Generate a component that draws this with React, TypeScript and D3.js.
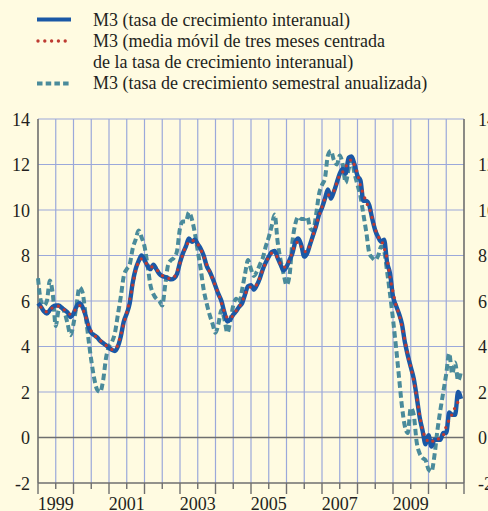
import React, { useEffect } from "react";
import * as d3 from "d3";

// Monthly observations, Jan 1999 .. Dec 2010
const START_YEAR = 1999;
const annualGrowth = [
  5.9, 5.75, 5.55, 5.45, 5.6, 5.75, 5.8, 5.8, 5.7, 5.6, 5.5, 5.3,
  5.45, 5.75, 5.9, 5.75, 5.4, 4.9, 4.6, 4.5, 4.4, 4.25, 4.15, 4.05,
  3.95, 3.85, 3.8, 4.0, 4.45, 5.1, 5.45, 5.9, 6.8, 7.4, 7.75, 8.0,
  7.8, 7.55, 7.4, 7.6, 7.4, 7.2, 7.1, 7.05, 7.0, 6.95, 7.0, 7.2,
  7.7, 8.1, 8.4, 8.75, 8.6, 8.7, 8.5, 8.3, 8.0, 7.55, 7.3, 7.0,
  6.65, 6.3, 6.0, 5.5, 5.1, 5.2, 5.4, 5.55, 5.75, 5.9, 6.3, 6.65,
  6.7, 6.5, 6.7, 7.0, 7.4, 7.7, 7.95, 8.15, 8.2, 7.9, 7.6, 7.35,
  7.5, 7.8, 8.1, 8.6, 8.75, 8.45, 7.95, 8.1, 8.5, 8.9, 9.3, 9.8,
  10.1, 10.5, 10.9, 10.5, 10.8, 11.2, 11.6, 11.8, 11.6, 12.3, 12.35, 12.0,
  11.5, 11.3, 10.4, 10.4, 10.2, 9.6, 9.1, 8.8, 8.6, 8.7, 7.7, 7.2,
  6.2, 5.8, 5.45, 5.0, 4.2, 3.6, 3.1, 2.6, 1.8, 0.9, 0.3, -0.3,
  0.1, -0.4, -0.1, -0.1, -0.1, 0.2, 0.2, 1.1, 1.0, 1.0, 2.0, 1.7,
];
// 3-month centred moving average (Feb 1999 .. Nov 2010), null where not available
const movingAverage = [
  null, 5.73, 5.58, 5.53, 5.6, 5.72, 5.78, 5.77, 5.7, 5.6, 5.47, 5.42,
  5.5, 5.7, 5.8, 5.68, 5.35, 4.97, 4.67, 4.5, 4.38, 4.27, 4.15, 4.05,
  3.95, 3.87, 3.88, 4.08, 4.52, 5.0, 5.48, 6.05, 6.7, 7.32, 7.72, 7.85,
  7.78, 7.58, 7.52, 7.47, 7.4, 7.23, 7.12, 7.05, 7.0, 6.98, 7.05, 7.3,
  7.67, 8.07, 8.42, 8.58, 8.68, 8.6, 8.5, 8.27, 7.95, 7.62, 7.28, 6.98,
  6.65, 6.32, 5.93, 5.53, 5.27, 5.23, 5.38, 5.57, 5.73, 5.98, 6.28, 6.55,
  6.62, 6.63, 6.73, 7.03, 7.37, 7.68, 7.93, 8.1, 8.08, 7.9, 7.62, 7.48,
  7.55, 7.8, 8.17, 8.48, 8.6, 8.38, 8.17, 8.18, 8.5, 8.9, 9.33, 9.73,
  10.13, 10.5, 10.63, 10.73, 10.83, 11.2, 11.53, 11.67, 11.9, 12.08, 12.22, 11.95,
  11.6, 11.07, 10.7, 10.33, 10.07, 9.63, 9.17, 8.83, 8.7, 8.33, 7.87, 7.03,
  6.4, 5.82, 5.42, 4.88, 4.27, 3.63, 3.1, 2.5, 1.77, 1.0, 0.3, 0.03,
  -0.2, -0.13, -0.2, -0.1, 0.0, 0.1, 0.5, 0.77, 1.03, 1.33, 1.57, null,
];
const semiannualGrowth = [
  7.0, 6.0, 5.8, 6.0, 6.9, 6.3, 4.9, 5.6, 5.7, 5.5, 5.0, 4.5,
  5.0, 5.8, 6.6, 6.4, 5.5, 4.4, 3.4, 2.6, 2.1, 2.0, 2.5, 3.5,
  4.0, 4.2, 4.6, 5.4, 6.2, 7.1, 7.4, 7.6, 8.3, 8.7, 9.1, 8.8,
  8.4, 7.6, 6.7, 6.3, 6.1, 6.0, 5.8, 6.7, 7.6, 7.8, 7.9, 8.2,
  9.2, 9.5, 9.5, 9.9, 9.6, 9.0, 8.2, 7.4, 6.5, 5.9, 5.4, 5.0,
  4.6, 5.0, 5.6, 5.2, 4.6, 5.1, 5.8, 6.1, 5.9, 6.5, 7.2, 7.8,
  7.4, 7.1, 7.3, 7.6, 7.9, 8.4, 8.8, 9.3, 9.8, 8.6, 7.8, 7.2,
  6.7, 7.1, 8.6, 9.4, 9.7, 9.6, 9.6, 9.7, 9.2, 9.1, 9.8, 10.7,
  11.1, 11.4, 12.4, 12.6, 12.2, 12.0, 12.4, 12.0, 11.2, 11.8, 12.2, 11.6,
  11.1, 10.6, 9.8, 9.0, 8.1, 7.9, 7.8, 8.0, 8.4, 8.2, 7.3, 6.3,
  5.2, 4.0, 2.7, 1.4, 0.5, 0.2, 1.3, 1.0, -0.2, -0.7, -0.9, -1.0,
  -1.4, -1.5, -0.8, 0.3, 1.2, 2.0, 2.8, 3.7, 2.8, 3.3, 2.5, 2.9,
];
const yTicks = [14, 12, 10, 8, 6, 4, 2, 0, -2];
const yearLabels = [1999, 2001, 2003, 2005, 2007, 2009];
const legendLabels = [
  ["M3 (tasa de crecimiento interanual)"],
  ["M3 (media móvil de tres meses centrada", "de la tasa de crecimiento interanual)"],
  ["M3 (tasa de crecimiento semestral anualizada)"],
];

const W = 488;
const H = 511;
const BG = "#fffbe1";
const GRID = "#9ba8da";
const AXIS = "#6f6f6f";
const BLUE = "#1a58a6";
const RED = "#be3b32";
const TEAL = "#4a8b9b";
const FONT = "'Liberation Serif', 'Times New Roman', serif";
const TEXT = "#231f20";

export default function App() {
  useEffect(() => {
    document.body.style.margin = "0";
    document.body.style.background = BG;
  }, []);

  const nMonths = 12 * 12;
  const x = d3.scaleLinear().domain([0, nMonths]).range([38, 464]);
  const y = d3.scaleLinear().domain([-2, 14]).range([483, 119]);

  const line = d3
    .line<number | null>()
    .defined((d) => d !== null)
    .x((_, i) => x(i))
    .y((d) => y(d as number))
    .curve(d3.curveMonotoneX);

  const halfYears = d3.range(6, nMonths, 6);
  const allTicks = d3.range(0, nMonths + 1, 6);

  return (
    <svg width={W} height={H} style={{ display: "block", background: BG }}>
      <rect x={0} y={0} width={W} height={H} fill={BG} />
      {/* legend */}
      <g fontFamily={FONT} fontSize={18} fill={TEXT}>
        <line x1={37} x2={71} y1={19.5} y2={19.5} stroke={BLUE} strokeWidth={4} />
        <text x={93} y={26}>{legendLabels[0][0]}</text>
        <line x1={38} x2={72} y1={41} y2={41} stroke={RED} strokeWidth={3.4} strokeDasharray="0 6.8" strokeLinecap="round" />
        <text x={93} y={47}>{legendLabels[1][0]}</text>
        <text x={93} y={68}>{legendLabels[1][1]}</text>
        <line x1={37} x2={71} y1={83.5} y2={83.5} stroke={TEAL} strokeWidth={4} strokeDasharray="5.5 3.2" />
        <text x={93} y={89}>{legendLabels[2][0]}</text>
      </g>

      {/* grid */}
      <g>
        {yTicks.filter((t) => t !== 0 && t !== -2).map((t) => (
          <line key={"h" + t} x1={x(0)} x2={x(nMonths)} y1={y(t)} y2={y(t)} stroke={GRID} strokeWidth={1.2} />
        ))}
        {halfYears.map((m) => (
          <line key={"v" + m} x1={x(m)} x2={x(m)} y1={y(14)} y2={y(-2)} stroke={GRID} strokeWidth={1.2} />
        ))}
        <line x1={x(0)} x2={x(nMonths)} y1={y(0)} y2={y(0)} stroke={AXIS} strokeWidth={1.6} />
        <line x1={x(0)} x2={x(nMonths)} y1={y(-2)} y2={y(-2)} stroke={AXIS} strokeWidth={1.4} />
        <line x1={x(0)} x2={x(0)} y1={y(14)} y2={y(-2)} stroke={AXIS} strokeWidth={1.6} />
        <line x1={x(nMonths)} x2={x(nMonths)} y1={y(14)} y2={y(-2)} stroke={AXIS} strokeWidth={1.6} />
        {allTicks.map((m) => (
          <line key={"t" + m} x1={x(m)} x2={x(m)} y1={y(-2)} y2={y(-2) + (m % 12 === 0 ? 11 : 6)} stroke={AXIS} strokeWidth={1.4} />
        ))}
      </g>

      {/* series */}
      <path d={line(semiannualGrowth) || ""} fill="none" stroke={TEAL} strokeWidth={4} strokeDasharray="6.5 3.5" />
      <path d={line(annualGrowth) || ""} fill="none" stroke={BLUE} strokeWidth={4.4} strokeLinejoin="round" />
      <path d={line(movingAverage) || ""} fill="none" stroke={RED} strokeWidth={3.3} strokeDasharray="0 7" strokeLinecap="round" />

      {/* y labels */}
      <g fontFamily={FONT} fontSize={18} fill={TEXT}>
        {yTicks.map((t) => (
          <text key={"l" + t} x={30} y={y(t) + 6.5} textAnchor="end">{t}</text>
        ))}
        {yTicks.map((t) => (
          <text key={"r" + t} x={478} y={y(t) + 6.5} textAnchor="start">{t}</text>
        ))}
        {yearLabels.map((yr) => (
          <text key={"y" + yr} x={x((yr - START_YEAR) * 12 + 6)} y={510} textAnchor="middle">{yr}</text>
        ))}
      </g>
    </svg>
  );
}
